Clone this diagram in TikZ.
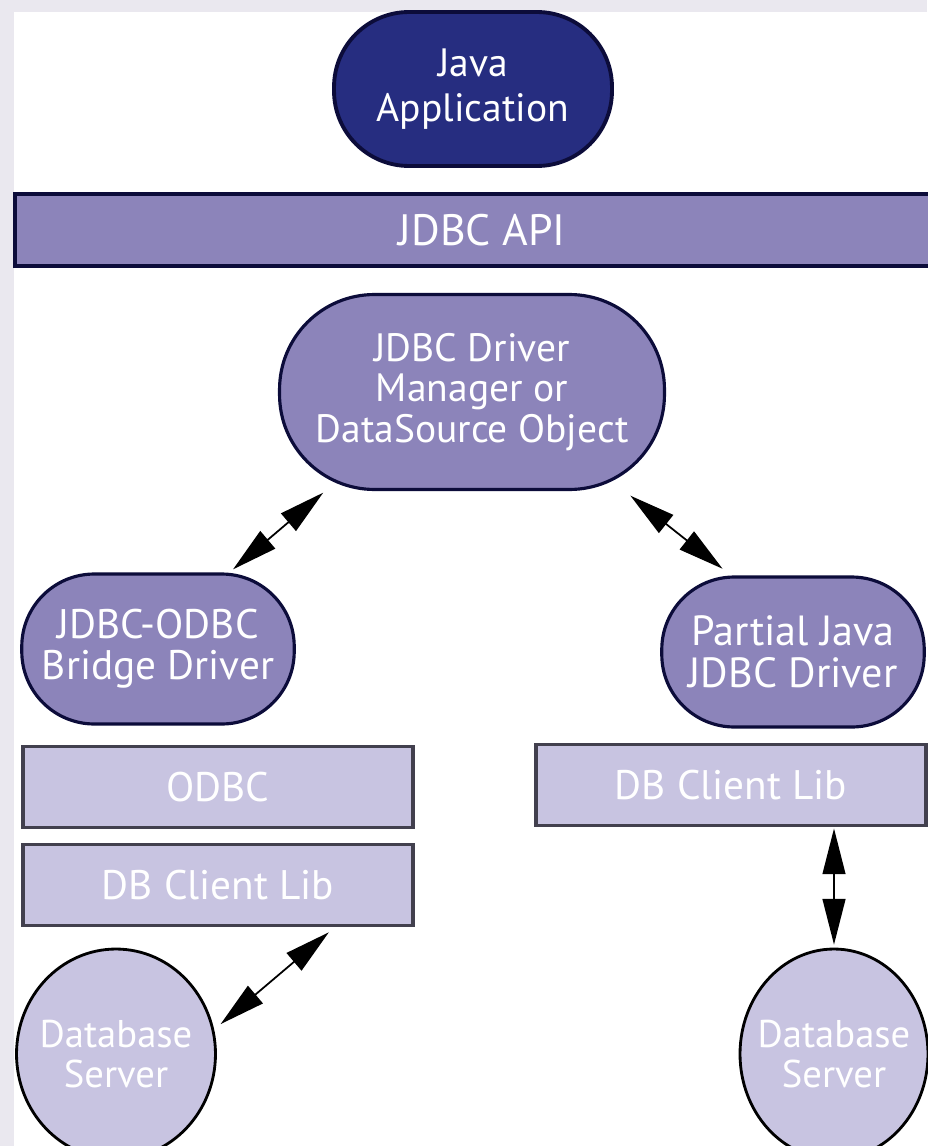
\documentclass[tikz,border=0pt]{standalone}
\usepackage{fontspec}
\setmainfont{PT Sans}
\usetikzlibrary{shapes.geometric,arrows.meta,positioning}
\definecolor{navyfill}{RGB}{38,45,128}
\definecolor{navyline}{RGB}{12,12,58}
\definecolor{midpurple}{RGB}{140,132,186}
\definecolor{palepurple}{RGB}{200,196,225}
\definecolor{libline}{RGB}{66,64,78}
\definecolor{framegray}{RGB}{234,232,239}

\begin{document}
\begin{tikzpicture}[
    x=0.02cm, y=-0.02cm,
    boxtext/.style={text=white, align=center, inner sep=0pt, font=\fontsize{23.5}{23.5}\selectfont},
    app/.style={boxtext, rectangle, draw=navyline, fill=navyfill, line width=2.2pt, rounded corners=1.5cm,
                minimum width=5.56cm, minimum height=3.08cm, font=\fontsize{22.5}{25.5}\selectfont},
    layer/.style={boxtext, rectangle, draw=navyline, fill=midpurple, line width=2.2pt, minimum height=1.44cm,
                  font=\fontsize{25}{25}\selectfont},
    driver/.style={boxtext, rectangle, draw=navyline, fill=midpurple, line width=1.8pt},
    lib/.style={boxtext, rectangle, draw=libline, fill=palepurple, line width=2.2pt,
                minimum width=7.8cm, minimum height=1.62cm},
    dbserver/.style={boxtext, ellipse, draw=black, fill=palepurple, line width=1.6pt,
                     minimum height=4.2cm, inner sep=-10pt, font=\fontsize{22}{22.5}\selectfont},
    arrow/.style={{Triangle[length=26pt,width=13pt]}-{Triangle[length=26pt,width=13pt]}, line width=1pt}
]

% Frame
\fill[framegray] (0,0) rectangle (927,1146);
\fill[white] (14,12) rectangle (927,1146);
\useasboundingbox (0,0) rectangle (927,1146);

% Application and API
\node[app] (javaapp) at (473,89) {Java\\Application};
\node[layer, minimum width=18.7cm] (jdbcapi) at (482,230) {JDBC API};

% Drivers
\node[driver, minimum width=7.7cm, minimum height=3.9cm, rounded corners=1.9cm,
      font=\fontsize{22.5}{23}\selectfont] (manager) at (472,392) {JDBC Driver\\Manager or\\DataSource Object};
\node[driver, minimum width=5.45cm, minimum height=3cm, rounded corners=1.45cm] (bridge) at (158,649) {JDBC-ODBC\\Bridge Driver};
\node[driver, minimum width=5.25cm, minimum height=3cm, rounded corners=1.45cm,
      font=\fontsize{24}{24}\selectfont] (partial) at (793,652) {Partial Java\\JDBC Driver};

% Client libraries
\node[lib] (odbc) at (218,787) {ODBC};
\node[lib] (leftlib) at (218,885) {DB Client Lib};
\node[lib] (rightlib) at (731,785) {DB Client Lib};

% Servers
\node[dbserver, minimum width=3.98cm] (leftdb) at (116,1054) {Database\\Server};
\node[dbserver, minimum width=3.76cm] (rightdb) at (834,1054) {Database\\Server};

% Connections
\draw[arrow, shorten <=1.4pt, shorten >=2.7pt] (manager.214.7) -- (bridge.47.2);
\draw[arrow, shorten <=4.2pt, shorten >=6.1pt] (manager.-33.8) -- (partial.129.2);
\draw[arrow, shorten <=4.3pt, shorten >=4.8pt] (leftlib.-20.8) -- (leftdb.14.6);
\draw[arrow, shorten <=0.6pt, shorten >=1.7pt] (rightdb.north |- rightlib.south) -- (rightdb.north);

\end{tikzpicture}
\end{document}
